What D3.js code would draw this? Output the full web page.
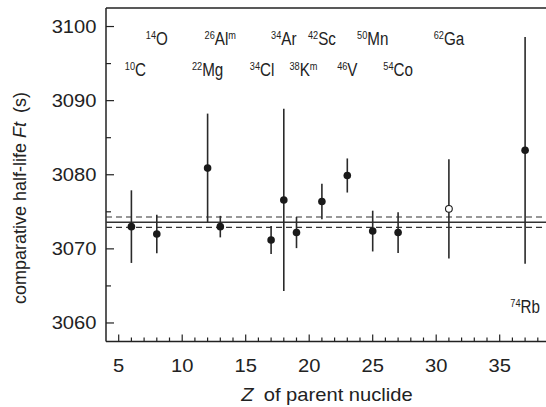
<!DOCTYPE html>
<html>
<head>
<meta charset="utf-8">
<script src="https://cdn.jsdelivr.net/npm/d3@7"></script>
<style>
  html, body { margin: 0; padding: 0; background: #fff; }
  svg { display: block; font-family: "Liberation Sans", Arial, Helvetica, sans-serif; }
</style>
</head>
<body>
<svg id="chart" width="546" height="407"></svg>
<script>
// Superallowed 0+ -> 0+ beta emitters: corrected Ft values vs. Z of parent
const zValues    = [6, 8, 12, 13, 17, 18, 19, 21, 23, 25, 27, 31, 37];
const ftValues   = [3073.0, 3072.0, 3080.9, 3073.0, 3071.2, 3076.6, 3072.2, 3076.4, 3079.9, 3072.4, 3072.2, 3075.4, 3083.3];
const ftErrors   = [4.9, 2.6, 7.35, 1.45, 1.9, 12.3, 2.1, 2.4, 2.3, 2.75, 2.75, 6.7, 15.3];
const openPoint  = [false, false, false, false, false, false, false, false, false, false, false, true, false];

// Nuclide labels
const massNumbers = [10, 14, 22, 26, 34, 34, 38, 42, 46, 50, 54, 62, 74];
const symbols     = ["C", "O", "Mg", "Al", "Cl", "Ar", "K", "Sc", "V", "Mn", "Co", "Ga", "Rb"];
const isomers     = ["", "", "", "m", "", "", "m", "", "", "", "", "", ""];

// Weighted average and its uncertainty band
const ftAverage = 3073.6;
const ftAverageErr = 0.7;

// Axis ticks
const xMajorTicks = [5, 10, 15, 20, 25, 30, 35];
const yMajorTicks = [3060, 3070, 3080, 3090, 3100];

const svg = d3.select("#chart");
const ink = "#222";

const x = d3.scaleLinear().domain([4, 39]).range([106, 550.5]);
const y = d3.scaleLinear().domain([3057.5, 3102.5]).range([341.5, 8]);

const plotLeft = x.range()[0], plotRight = 546;
const plotTop = y.range()[1], plotBottom = y.range()[0];

// Frame: left spine, top line, bottom axis
svg.append("line").attr("x1", plotLeft).attr("x2", plotRight).attr("y1", plotTop).attr("y2", plotTop)
  .attr("stroke", ink).attr("stroke-width", 1.5);
svg.append("line").attr("x1", plotLeft).attr("x2", plotRight).attr("y1", plotBottom).attr("y2", plotBottom)
  .attr("stroke", ink).attr("stroke-width", 1.5);
svg.append("line").attr("x1", plotLeft).attr("x2", plotLeft).attr("y1", plotTop).attr("y2", plotBottom)
  .attr("stroke", ink).attr("stroke-width", 1.5);

// X ticks (inward), minor every unit
const xMinor = d3.range(5, 39).filter(v => !xMajorTicks.includes(v));
svg.append("g").selectAll("line").data(xMinor).join("line")
  .attr("x1", d => x(d)).attr("x2", d => x(d))
  .attr("y1", plotBottom).attr("y2", plotBottom - 4)
  .attr("stroke", ink).attr("stroke-width", 1.2);
svg.append("g").selectAll("line").data(xMajorTicks).join("line")
  .attr("x1", d => x(d)).attr("x2", d => x(d))
  .attr("y1", plotBottom).attr("y2", plotBottom - 7)
  .attr("stroke", ink).attr("stroke-width", 1.2);
svg.append("g").selectAll("text").data(xMajorTicks).join("text")
  .attr("transform", d => `translate(${x(d)},371.5) scale(1.12,1)`)
  .attr("text-anchor", "middle")
  .attr("font-size", 18).attr("fill", ink)
  .text(d => d);

// Y ticks (inward), minor every 5
const yMinor = d3.range(3060, 3102, 5).filter(v => !yMajorTicks.includes(v));
svg.append("g").selectAll("line").data(yMinor).join("line")
  .attr("x1", plotLeft).attr("x2", plotLeft + 5)
  .attr("y1", d => y(d)).attr("y2", d => y(d))
  .attr("stroke", ink).attr("stroke-width", 1.2);
svg.append("g").selectAll("line").data(yMajorTicks).join("line")
  .attr("x1", plotLeft).attr("x2", plotLeft + 8)
  .attr("y1", d => y(d)).attr("y2", d => y(d))
  .attr("stroke", ink).attr("stroke-width", 1.2);
svg.append("g").selectAll("text").data(yMajorTicks).join("text")
  .attr("transform", d => `translate(96.5,${y(d) + 6.5}) scale(1.12,1)`)
  .attr("text-anchor", "end")
  .attr("font-size", 18).attr("fill", ink)
  .text(d => d);

// Axis titles
const xTitle = svg.append("text")
  .attr("transform", "translate(327,401) scale(1.12,1)")
  .attr("text-anchor", "middle").attr("font-size", 18).attr("fill", ink);
xTitle.append("tspan").attr("font-style", "italic").text("Z");
xTitle.append("tspan").text("\u2002of parent nuclide");

const yTitle = svg.append("text")
  .attr("transform", "translate(26,198) rotate(-90)")
  .attr("text-anchor", "middle").attr("font-size", 18).attr("fill", ink);
yTitle.append("tspan").text("comparative half-life ");
yTitle.append("tspan").attr("font-style", "italic").text("Ft");
yTitle.append("tspan").text("\u2002(s)");

// Average and its band
svg.append("line")
  .attr("x1", plotLeft).attr("x2", plotRight)
  .attr("y1", y(ftAverage)).attr("y2", y(ftAverage))
  .attr("stroke", "#333").attr("stroke-width", 1.5);
[ftAverage + ftAverageErr, ftAverage - ftAverageErr].forEach(v => {
  svg.append("line")
    .attr("x1", plotLeft).attr("x2", plotRight)
    .attr("y1", y(v)).attr("y2", y(v))
    .attr("stroke", "#333").attr("stroke-width", 1.1)
    .attr("stroke-dasharray", "6,4");
});

// Data: error bars and points
const data = zValues.map((z, i) => ({
  z, ft: ftValues[i], err: ftErrors[i], open: openPoint[i]
}));

svg.append("g").selectAll("line").data(data).join("line")
  .attr("x1", d => x(d.z)).attr("x2", d => x(d.z))
  .attr("y1", d => y(d.ft + d.err)).attr("y2", d => y(d.ft - d.err))
  .attr("stroke", "#2a2a2a").attr("stroke-width", 1.6);

svg.append("g").selectAll("circle").data(data).join("circle")
  .attr("cx", d => x(d.z)).attr("cy", d => y(d.ft))
  .attr("r", d => d.open ? 3.4 : 3.8)
  .attr("fill", d => d.open ? "#fff" : "#1a1a1a")
  .attr("stroke", "#1a1a1a").attr("stroke-width", d => d.open ? 1.1 : 0);

// Nuclide labels: alternate two rows under the top frame, last one near the bottom
const labelNudge = { 0: 4, 4: -9, 6: 7 };
const labels = massNumbers.map((a, i) => ({
  a, sym: symbols[i], iso: isomers[i], z: zValues[i], i
}));
const labelG = svg.append("g");
labels.forEach(d => {
  const last = d.i === labels.length - 1;
  const baseline = last ? 312.5 : (d.i % 2 === 1 ? 45 : 76);
  const cx = x(d.z) + (labelNudge[d.i] || 0);
  const t = labelG.append("text")
    .attr("transform", `translate(${cx},${baseline}) scale(0.8,1)`)
    .attr("text-anchor", "middle")
    .attr("font-size", 19).attr("fill", ink);
  t.append("tspan").attr("font-size", 11.5).attr("dy", -6).text(d.a);
  t.append("tspan").attr("dy", 6).text(d.sym);
  if (d.iso) t.append("tspan").attr("font-size", 11.5).attr("dy", -6).text(d.iso);
});
</script>
</body>
</html>
